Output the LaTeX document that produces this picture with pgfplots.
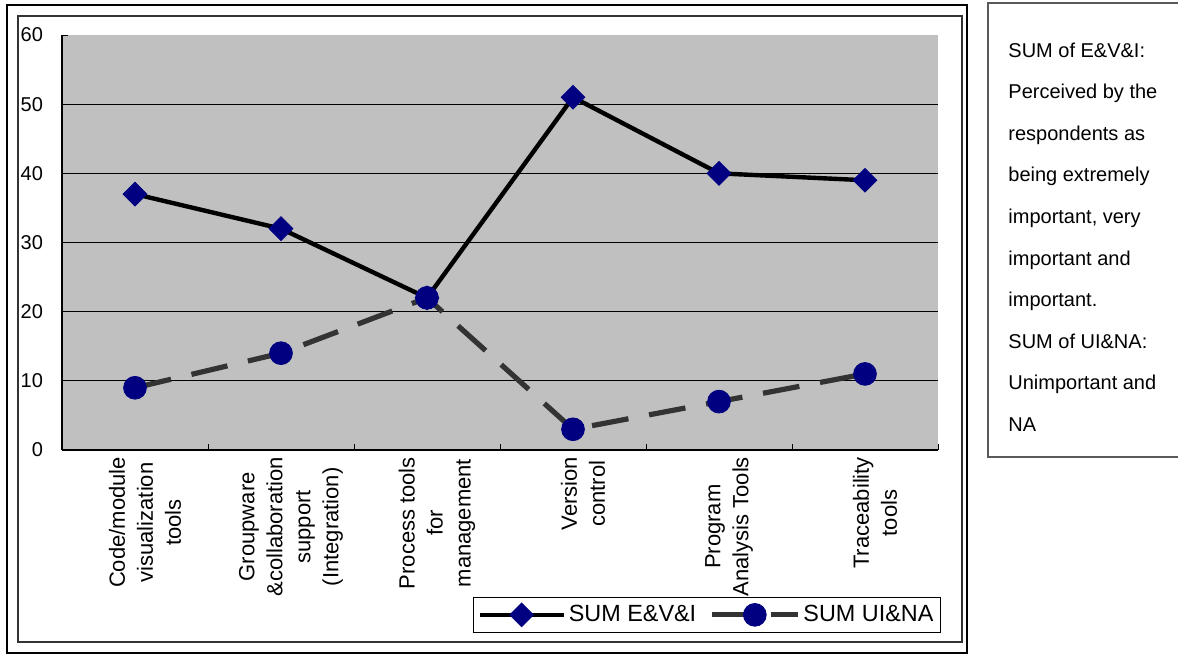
\documentclass[border=0pt]{standalone}
\usepackage{pgfplots}
\pgfplotsset{compat=1.18}
\usepackage{fontspec}
\setmainfont{Liberation Sans}

\definecolor{markblue}{HTML}{000080}
\definecolor{dashgray}{HTML}{333333}
\definecolor{plotbg}{HTML}{C0C0C0}

\begin{document}
\begin{tikzpicture}
% page frame, chart frames and the side note (units: 0.5pt per step)
\begin{scope}[x=0.5pt, y=-0.5pt]
  \useasboundingbox (0,0) rectangle (1178,655);
  \draw[black, line width=0.75pt] (7,5) rectangle (967,653);
  \draw[black!80, line width=0.75pt] (18,16) rectangle (962,642);
  \draw[black!65, line width=0.75pt] (1180,3) -- (988,3) -- (988,457) -- (1180,457);
  \foreach \t [count=\i from 0] in {%
      SUM of E\&V\&I:,
      Perceived by the,
      respondents as,
      being extremely,
      {important, very},
      important and,
      important.,
      SUM of UI\&NA:,
      Unimportant and,
      NA}{%
    \node[anchor=base west, inner sep=0pt, font=\fontsize{10}{12}\selectfont]
      at (1008,{57+41.6*\i}) {\t};
  }
\end{scope}

\begin{axis}[
  at={(31pt,-225pt)}, anchor=south west,
  scale only axis, width=438pt, height=207.5pt,
  xmin=-0.5, xmax=5.5, ymin=0, ymax=60,
  axis background/.style={fill=plotbg},
  axis x line*=bottom, axis y line*=left,
  axis line style={black, line width=0.75pt, -},
  tick align=inside,
  major tick length=3pt, minor tick length=3pt,
  every tick/.style={black, line width=0.5pt},
  ytick={0,10,...,60},
  extra y ticks={10,20,30,40,50},
  extra y tick labels={},
  extra y tick style={grid=major, major tick length=0pt},
  grid style={black, line width=0.5pt},
  xtick={0,...,5},
  minor xtick={-0.5,0.5,...,5.5},
  major x tick style={draw=none},
  xticklabels={
    {Code/module\\visualization\\tools},
    {Groupware\\\&collaboration\\support\\(Integration)},
    {Process tools\\for\\management},
    {Version\\control},
    {Program\\Analysis Tools},
    {Traceability\\tools}},
  xticklabel style={rotate=90, anchor=east, align=center,
    font=\fontsize{11}{14}\selectfont, yshift=-5pt},
  yticklabel style={font=\fontsize{10}{12}\selectfont, xshift=-6pt},
  /pgf/number format/assume math mode=true,
  legend columns=2,
  legend style={at={(axis description cs:1.0034,-0.441)}, anchor=south east,
    draw=black, line width=0.5pt, fill=white,
    font=\fontsize{11.7}{13}\selectfont,
    inner xsep=2pt, inner ysep=2pt,
    /tikz/every odd column/.append style={column sep=0pt},
    /tikz/every even column/.append style={column sep=5pt},
    nodes={inner xsep=1.5pt, inner ysep=2pt}},
]
\addplot[black, line width=2.2pt,
  mark=square*, mark size=4.2pt,
  mark options={solid, rotate=45, fill=markblue, draw=markblue, line width=0.4pt},
  legend image code/.code={%
    \draw[mark repeat=2, mark phase=2]
      plot coordinates {(0pt,0pt) (21pt,0pt) (42pt,0pt)};}]
  coordinates {(0,37) (1,32) (2,22) (3,51) (4,40) (5,39)};
\addlegendentry{SUM E\&V\&I}

\addplot[dashgray, line width=2.6pt, dash pattern=on 18.5pt off 10.5pt,
  mark=*, mark size=5.7pt,
  mark options={solid, fill=markblue, draw=markblue, line width=0.4pt},
  legend image code/.code={%
    \draw[dash pattern=on 25.5pt off 4pt on 20pt, mark repeat=2, mark phase=2]
      plot coordinates {(0pt,0pt) (21.5pt,0pt) (43pt,0pt)};}]
  coordinates {(0,9) (1,14) (2,22) (3,3) (4,7) (5,11)};
\addlegendentry{SUM UI\&NA}
\end{axis}
\end{tikzpicture}
\end{document}
